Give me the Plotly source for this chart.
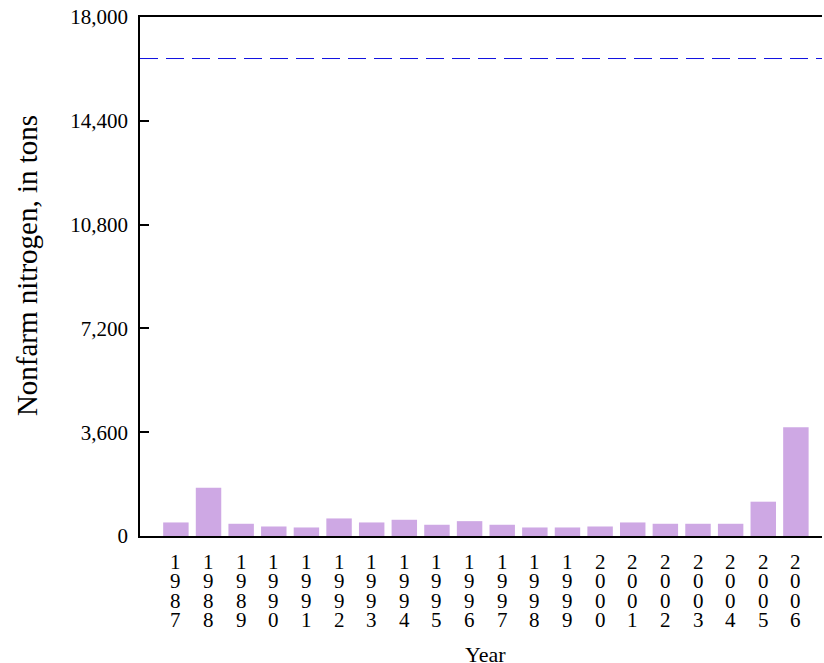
import plotly.graph_objects as go

years = ["1987", "1988", "1989", "1990", "1991", "1992", "1993", "1994", "1995", "1996",
         "1997", "1998", "1999", "2000", "2001", "2002", "2003", "2004", "2005", "2006"]
nitrogen_tons = [470, 1675, 424, 330, 296, 609, 470, 563, 390, 515,
                 390, 296, 296, 330, 470, 424, 424, 424, 1190, 3774]
threshold_tons = 16560
y_ticks = [0, 3600, 7200, 10800, 14400, 18000]

FONT = "Liberation Serif, Times New Roman, serif"

fig = go.Figure()
fig.add_trace(go.Bar(
    x=years,
    y=nitrogen_tons,
    marker=dict(color="#CEA8E4", line=dict(width=0)),
    showlegend=False,
))

fig.add_shape(type="line", xref="paper", yref="y", x0=0, x1=1,
              y0=threshold_tons, y1=threshold_tons,
              line=dict(color="#1010E0", width=1, dash="18px,8px"))

# vertical (stacked-digit) year tick labels, placed at category index
annotations = []
for i, yr in enumerate(years):
    for k, ch in enumerate(yr):
        annotations.append(dict(
            x=i, xref="x", y=0, yref="paper",
            text=ch, showarrow=False,
            xanchor="center", yanchor="middle",
            yshift=-(25.7 + 19.4 * k),
            font=dict(size=21, family=FONT, color="black"),
        ))
annotations.append(dict(
    x=(len(years) - 1) / 2, xref="x", y=0, yref="paper",
    text="Year", showarrow=False, xanchor="center", yanchor="middle",
    yshift=-118, font=dict(size=22, family=FONT, color="black"),
))
annotations.append(dict(
    x=0, xref="paper", y=0.52, yref="paper",
    text="Nonfarm nitrogen, in tons", showarrow=False, textangle=-90,
    xanchor="center", yanchor="middle", xshift=-113,
    font=dict(size=29, family=FONT, color="black"),
))

fig.update_layout(
    width=824, height=663,
    margin=dict(l=140, r=2, t=17, b=127),
    paper_bgcolor="white", plot_bgcolor="white",
    font=dict(family=FONT, color="black"),
    bargap=0.22,
    annotations=annotations,
    xaxis=dict(
        type="category",
        range=[-1.1, 19.8],
        showticklabels=False,
        showline=True, linecolor="black", linewidth=1.5, mirror=True,
        ticks="", showgrid=False, zeroline=False,
        automargin=False,
    ),
    yaxis=dict(
        range=[0, 18000],
        tickmode="array", tickvals=y_ticks,
        tickformat=",",
        tickfont=dict(size=21, family=FONT),
        showline=True, linecolor="black", linewidth=1.5,
        ticks="inside", ticklen=9, tickcolor="black", tickwidth=1.5,
        showgrid=False, zeroline=False,
        ticklabelstandoff=6,
        automargin=False,
    ),
)

fig.write_html("out.html", config={"displayModeBar": False},
               post_script="document.body.style.margin='0';document.body.style.overflow='hidden';")
